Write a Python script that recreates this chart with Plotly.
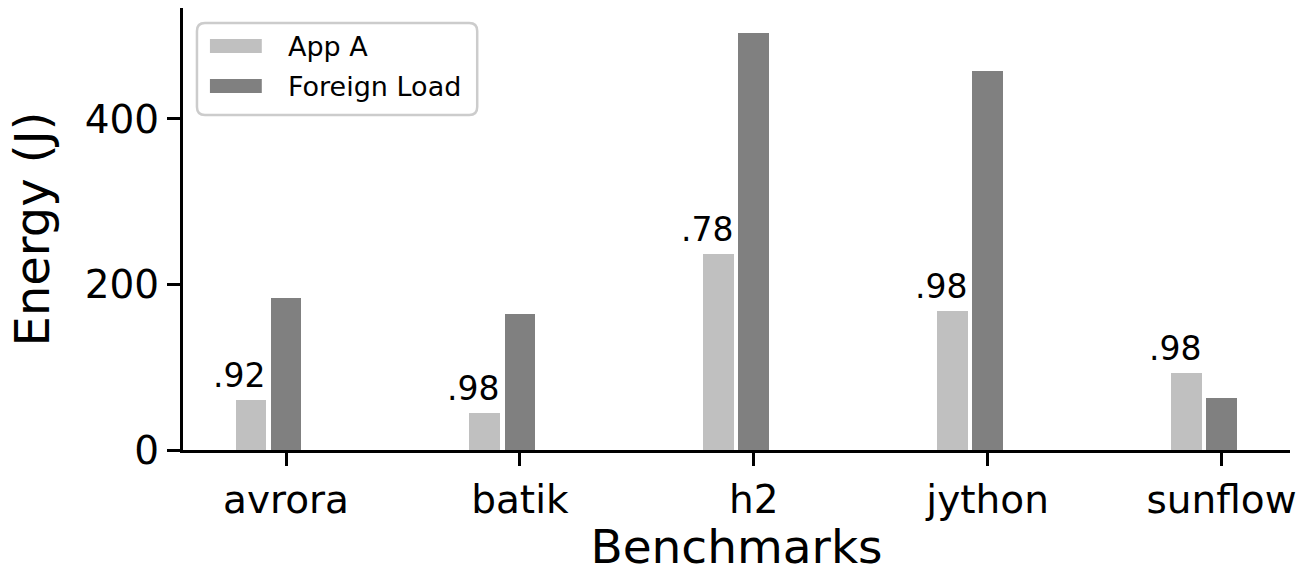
import plotly.graph_objects as go

# Benchmark energy measurements
benchmarks = ["avrora", "batik", "h2", "jython", "sunflow"]
app_a_energy = [61, 45, 237, 168, 93]
foreign_energy = [184, 164, 504, 458, 63]
app_a_labels = [".92", ".98", ".78", ".98", ".98"]
series_names = ["App A", "Foreign Load"]
series_colors = ["#c0c0c0", "#808080"]
y_ticks = [0, 200, 400]

W, H = 1304, 574
L, R, T, B = 183, 11, 8, 124
FONT = "DejaVu Sans"

x_pos = list(range(len(benchmarks)))
bar_w = 0.131

fig = go.Figure()
fig.add_trace(go.Bar(
    x=x_pos, y=app_a_energy, name=series_names[0],
    width=bar_w, offset=-0.15 - bar_w / 2,
    marker=dict(color=series_colors[0], line=dict(width=0)),
    showlegend=False,
))
fig.add_trace(go.Bar(
    x=x_pos, y=foreign_energy, name=series_names[1],
    width=bar_w, offset=-bar_w / 2,
    marker=dict(color=series_colors[1], line=dict(width=0)),
    showlegend=False,
))

# value labels above the App A bars
for i, (v, lab) in enumerate(zip(app_a_energy, app_a_labels)):
    fig.add_annotation(
        x=i - 0.2, y=v, text=lab, showarrow=False,
        xanchor="center", yanchor="bottom", yshift=3,
        font=dict(family=FONT, size=33, color="black"),
    )

# legend box drawn in pixel space converted to paper coordinates
pw, ph = W - L - R, H - T - B
def px(x):
    return (x - L) / pw
def py(y):
    return (H - B - y) / ph

x0, x1, y0, y1, r = 197, 478, 23, 115, 8
path = (
    f"M {px(x0 + r)},{py(y0)} L {px(x1 - r)},{py(y0)} "
    f"Q {px(x1)},{py(y0)} {px(x1)},{py(y0 + r)} "
    f"L {px(x1)},{py(y1 - r)} Q {px(x1)},{py(y1)} {px(x1 - r)},{py(y1)} "
    f"L {px(x0 + r)},{py(y1)} Q {px(x0)},{py(y1)} {px(x0)},{py(y1 - r)} "
    f"L {px(x0)},{py(y0 + r)} Q {px(x0)},{py(y0)} {px(x0 + r)},{py(y0)} Z"
)
fig.add_shape(type="path", path=path, xref="paper", yref="paper",
              line=dict(color="#cccccc", width=2.5), fillcolor="rgba(255,255,255,0.8)",
              layer="above")
for k, (name, col) in enumerate(zip(series_names, series_colors)):
    cy = 46 + 40 * k
    fig.add_shape(type="rect", xref="paper", yref="paper",
                  x0=px(210), x1=px(262), y0=py(cy - 7), y1=py(cy + 7),
                  fillcolor=col, line=dict(width=0), layer="above")
    fig.add_annotation(x=px(286), y=py(cy), xref="paper", yref="paper",
                       text=name, showarrow=False, xanchor="left", yanchor="middle",
                       font=dict(family=FONT, size=27, color="black"))

fig.update_layout(
    width=W, height=H,
    margin=dict(l=L, r=R, t=T, b=B),
    paper_bgcolor="white", plot_bgcolor="white",
    font=dict(family=FONT, color="black"),
    bargap=0,
)
fig.update_xaxes(
    range=[-0.4405, 4.293],
    tickmode="array", tickvals=x_pos, ticktext=benchmarks,
    showline=True, linecolor="black", linewidth=3,
    ticks="outside", ticklen=13, tickwidth=3, tickcolor="black",
    tickfont=dict(family=FONT, size=39, color="black"),
    showgrid=False, zeroline=False,
    title=dict(text="Benchmarks", font=dict(family=FONT, size=47, color="black"), standoff=10),
)
fig.update_yaxes(
    range=[0, 534],
    tickmode="array", tickvals=y_ticks,
    showline=True, linecolor="black", linewidth=3,
    ticks="outside", ticklen=13, tickwidth=3, tickcolor="black",
    tickfont=dict(family=FONT, size=39, color="black"),
    showgrid=False, zeroline=False,
    title=dict(text="Energy (J)", font=dict(family=FONT, size=48, color="black"), standoff=20),
)

fig.write_html("out.html")
